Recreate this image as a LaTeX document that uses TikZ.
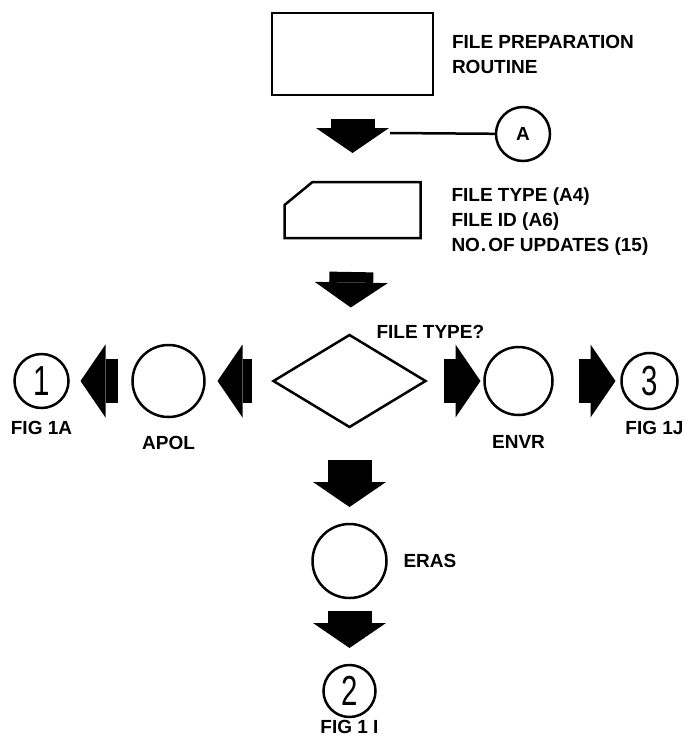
\documentclass[tikz,border=0pt]{standalone}
\usepackage{fontspec}
\setmainfont{Liberation Sans}
\usetikzlibrary{shapes.geometric,arrows.meta,positioning}

\begin{document}
\begin{tikzpicture}[
    x=1pt, y=-1pt,
    every node/.style={inner sep=0pt, outer sep=0pt},
    outline/.style={draw=black, line width=2.5pt},
    stepbox/.style={outline, rectangle, minimum width=161pt, minimum height=82pt},
    card/.style={rectangle, minimum width=136pt, minimum height=56pt},
    decide/.style={outline, diamond, minimum width=152pt, minimum height=92pt},
    proc/.style={outline, circle, minimum size=#1},
    conn/.style={outline, circle, minimum size=#1, font=\fontsize{42}{42}\selectfont},
    lbl/.style={font=\bfseries\fontsize{19}{25}\selectfont, align=left},
    fat/.style={line width=44pt, -{Triangle[width=73pt 0 0, length=25pt 0 0, line width=0pt]}},
    wire/.style={draw=black, line width=2.5pt},
]
    \useasboundingbox (0,0) rectangle (685,740);

    \node[stepbox] (prep) at (352.5,54) {};
    \node[lbl, right=19pt of prep] (preptxt) {FILE PREPARATION\\ROUTINE};

    \node[conn=54pt, lbl] (A) at (523,134) {A};
    \coordinate (tapA) at (390,133);

    \node[card, below=87pt of prep] (rec) {};
    \draw[outline] (rec.south west) -- ([yshift=-23pt]rec.north west) -- ([xshift=28pt]rec.north west)
        -- (rec.north east) -- (rec.south east) -- cycle;
    \node[lbl, right=31pt of rec, yshift=-12pt] (rectxt) {FILE TYPE (A4)\\FILE ID (A6)\\NO{\kern1pt.}\kern2pt OF UPDATES (15)};

    \node[decide, below=97pt of rec, xshift=-3pt] (type) {};
    \node[lbl, right=27pt of type.north, yshift=3.5pt] (typetxt) {FILE TYPE?};

    \node[proc=72pt, left=69pt of type] (apol) {};
    \node[lbl, below=19pt of apol] (apoltxt) {APOL};
    \node[conn=54pt, left=64pt of apol] (one) {\scalebox{0.7}[1]{1}};
    \node[lbl, below=13pt of one] (onetxt) {FIG 1A};

    \node[proc=68pt, right=59pt of type] (envr) {};
    \node[lbl, below=20pt of envr] (envrtxt) {ENVR};
    \node[conn=56pt, right=69pt of envr] (three) {\scalebox{0.7}[1]{3}};
    \node[lbl, below=12pt of three, xshift=5pt] (threetxt) {FIG 1J};

    \node[proc=74pt, below=97pt of type] (eras) {};
    \node[lbl, right=17pt of eras] (erastxt) {ERAS};
    \node[conn=52pt, below=67pt of eras] (two) {\scalebox{0.7}[1]{2}};
    \node[lbl, below=3pt of two] (twotxt) {FIG 1 I};

    % flow arrows
    \draw[fat, shorten <=24pt, shorten >=29pt] (prep) -- (rec);
    \draw[wire] (tapA) -- (A);
    \draw[fat, shorten <=34pt, shorten >=28pt] (rec) -- (type);
    \draw[fat, shorten <=21pt, shorten >=13pt] (type) -- (apol);
    \draw[fat, shorten <=15pt, shorten >=12pt] (apol) -- (one);
    \draw[fat, shorten <=18pt, shorten >=4pt] (type) -- (envr);
    \draw[fat, shorten <=26pt, shorten >=6pt] (envr) -- (three);
    \draw[fat, shorten <=33pt, shorten >=17pt] (type) -- (eras);
    \draw[fat, shorten <=13pt, shorten >=17pt] (eras) -- (two);

\end{tikzpicture}
\end{document}
